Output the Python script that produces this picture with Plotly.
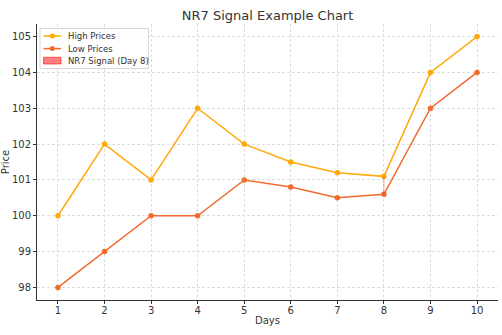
import plotly.graph_objects as go

days = [1, 2, 3, 4, 5, 6, 7, 8, 9, 10]
high_prices = [100, 102, 101, 103, 102, 101.5, 101.2, 101.1, 104, 105]
low_prices = [98, 99, 100, 100, 101, 100.8, 100.5, 100.6, 103, 104]
nr7_day = 8
series_names = ["High Prices", "Low Prices", "NR7 Signal (Day 8)"]

HIGH_COLOR = "#FFA90A"
LOW_COLOR = "#F26B2C"
SIGNAL_COLOR = "rgba(255,0,0,0.5)"
FONT = "DejaVu Sans"

W, H = 502, 335
ML, MR, MT, MB = 37, 4, 24, 35

fig = go.Figure()

fig.add_trace(go.Scatter(
    x=days, y=high_prices, mode="lines+markers", name=series_names[0],
    line=dict(color=HIGH_COLOR, width=1.5),
    marker=dict(color=HIGH_COLOR, size=5.5),
))
fig.add_trace(go.Scatter(
    x=days, y=low_prices, mode="lines+markers", name=series_names[1],
    line=dict(color=LOW_COLOR, width=1.5),
    marker=dict(color=LOW_COLOR, size=5.5),
))

# NR7 signal: band between low and high on the signal day
i = days.index(nr7_day)
fig.add_trace(go.Scatter(
    x=[nr7_day, nr7_day], y=[low_prices[i], high_prices[i]],
    mode="lines", name=series_names[2],
    line=dict(color="rgba(255,0,0,0.35)", width=1),
))

# Compact legend box (drawn in paper coordinates)
pw, ph = W - ML - MR, H - MT - MB
def px(x):
    return (x - ML) / pw
def py(y):
    return 1 - (y - MT) / ph

shapes = [dict(type="rect", xref="paper", yref="paper",
               x0=px(40), x1=px(148.5), y0=py(68.5), y1=py(28.5),
               line=dict(color="#D5D5D5", width=1), fillcolor="rgba(255,255,255,0.85)",
               layer="above")]
annotations = []
rows = [36, 48.6, 60.6]
for row, name, col in zip(rows[:2], series_names[:2], [HIGH_COLOR, LOW_COLOR]):
    shapes.append(dict(type="line", xref="paper", yref="paper",
                       x0=px(43.5), x1=px(61), y0=py(row), y1=py(row),
                       line=dict(color=col, width=1.5), layer="above"))
    shapes.append(dict(type="circle", xref="paper", yref="paper",
                       x0=px(49.8), x1=px(54.8), y0=py(row + 2.5), y1=py(row - 2.5),
                       line=dict(color=col, width=0), fillcolor=col, layer="above"))
shapes.append(dict(type="rect", xref="paper", yref="paper",
                   x0=px(43.5), x1=px(61), y0=py(64), y1=py(57.3),
                   line=dict(color="rgba(255,0,0,0.55)", width=1),
                   fillcolor=SIGNAL_COLOR, layer="above"))
for row, name in zip(rows, series_names):
    annotations.append(dict(xref="paper", yref="paper", x=px(65.5), y=py(row),
                            xanchor="left", yanchor="middle", showarrow=False,
                            text=name, font=dict(family=FONT, size=8.5, color="#333333")))

fig.update_layout(
    width=W, height=H,
    margin=dict(l=ML, r=MR, t=MT, b=MB),
    paper_bgcolor="white", plot_bgcolor="white",
    font=dict(family=FONT, size=10, color="#333333"),
    title=dict(text="NR7 Signal Example Chart", x=0.533, xanchor="center",
               y=1 - 15.5 / H, yanchor="middle", font=dict(size=13, color="#333333")),
    showlegend=False,
    shapes=shapes,
    annotations=annotations,
)

fig.update_xaxes(
    range=[0.55, 10.45], tickmode="array", tickvals=days,
    showgrid=True, gridcolor="#DEDEDE", griddash="3px,2px", gridwidth=0.8,
    showline=True, linecolor="#333333", linewidth=1,
    ticks="outside", ticklen=3, tickcolor="#333333", ticklabelstandoff=-2,
    zeroline=False, automargin=False,
    title=dict(text="Days", font=dict(size=10), standoff=1),
)
fig.update_yaxes(
    range=[97.65, 105.35], tickmode="array", tickvals=[98, 99, 100, 101, 102, 103, 104, 105],
    showgrid=True, gridcolor="#DEDEDE", griddash="3px,2px", gridwidth=0.8,
    showline=True, linecolor="#333333", linewidth=1,
    ticks="outside", ticklen=3, tickcolor="#333333",
    zeroline=False, automargin=False,
    title=dict(text="Price", font=dict(size=10), standoff=3),
)

fig.write_html("out.html")
